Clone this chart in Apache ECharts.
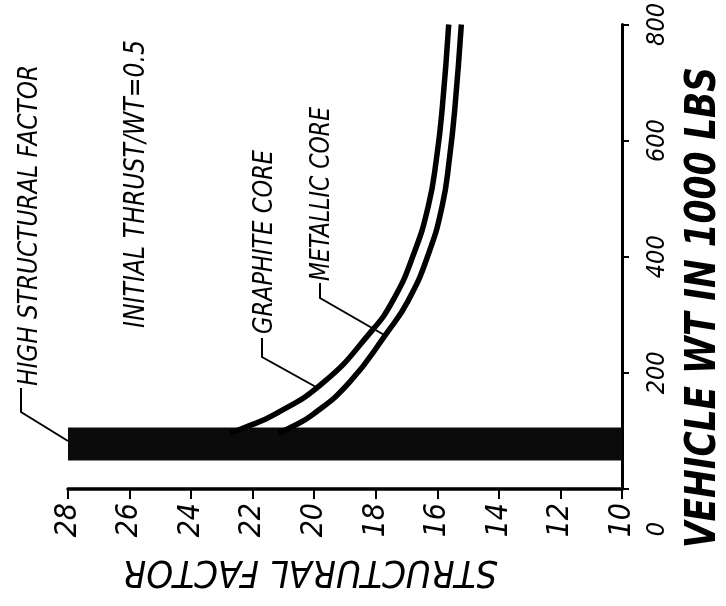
<!DOCTYPE html>
<html>
<head>
<meta charset="utf-8">
<script src="https://cdn.jsdelivr.net/npm/echarts@6/dist/echarts.min.js"></script>
<style>
html,body{margin:0;padding:0;background:#fff;}
#chart{width:726px;height:606px;}
</style>
</head>
<body>
<div id="chart"></div>
<script>
// ---- data ----
const sfMin = 10, sfMax = 28, sfStep = 2;      // structural factor axis (bottom, reversed)
const wtMin = 0, wtMax = 800, wtStep = 200;     // vehicle weight axis (right)

const graphiteWt = [96, 105, 128, 184, 268, 324, 403, 488, 572, 656, 800];
const graphiteSf = [22.75, 22.3, 21.3, 19.69, 18.2, 17.45, 16.78, 16.29, 16.02, 15.84, 15.63];
const metallicWt = [96, 105, 128, 184, 268, 324, 403, 488, 572, 656, 800];
const metallicSf = [21.15, 20.8, 20.05, 18.85, 17.65, 16.95, 16.3, 15.84, 15.6, 15.43, 15.22];

const bandSf = [28, 10];    // high structural factor band extent
const bandWt = [49, 106];

const xAxisName = 'STRUCTURAL FACTOR';
const yAxisName = 'VEHICLE WT IN 1000 LBS';
const noteHigh = 'HIGH STRUCTURAL FACTOR';
const noteThrust = 'INITIAL THRUST/WT=0.5';
const noteGraphite = 'GRAPHITE CORE';
const noteMetallic = 'METALLIC CORE';

// ---- chart ----
const FONT = "'Liberation Sans Narrow', 'DejaVu Sans Condensed', sans-serif";
const zip = (xs, ys) => xs.map((x, i) => [x, ys[i]]);
const mctx = document.createElement('canvas').getContext('2d');
function fitScale(text, font, len) {
  mctx.font = font;
  const w = mctx.measureText(text).width;
  return w > 0 ? len / w : 1;
}

const chart = echarts.init(document.getElementById('chart'), null, {renderer: 'canvas'});

function upText(x, y, text, size, len, weight) {
  const font = 'italic ' + (weight || 'normal') + ' ' + size + 'px ' + FONT;
  return {
    type: 'text', x: x, y: y, rotation: Math.PI / 2, z: 100,
    scaleX: fitScale(text, font, len), scaleY: 1,
    style: {text: text, fill: '#000', align: 'left', verticalAlign: 'middle', font: font}
  };
}
function leader(points) {
  return {
    type: 'polyline', z: 100,
    shape: {points: points},
    style: {stroke: '#000', lineWidth: 2, fill: null}
  };
}

const bottomFont = 'italic normal 38px ' + FONT;

const option = {
  backgroundColor: '#fff',
  animation: false,
  grid: {left: 68, right: 104, top: 15, bottom: 117, containLabel: false},
  xAxis: {
    type: 'value', min: sfMin, max: sfMax, interval: sfStep, inverse: true,
    position: 'bottom',
    axisLine: {show: true, lineStyle: {color: '#000', width: 3.5}},
    axisTick: {show: true, inside: false, length: 10, lineStyle: {color: '#000', width: 2}},
    axisLabel: {
      rotate: 90, margin: 14, color: '#000', fontSize: 30, fontStyle: 'italic',
      fontFamily: FONT
    },
    splitLine: {show: false}
  },
  yAxis: {
    type: 'value', min: wtMin, max: wtMax, interval: wtStep,
    position: 'right',
    axisLine: {show: true, lineStyle: {color: '#000', width: 3}},
    axisTick: {show: true, inside: false, length: 7, lineStyle: {color: '#000', width: 2}},
    axisLabel: {
      rotate: 90, margin: 23, color: '#000', fontSize: 25, fontStyle: 'italic',
      fontFamily: FONT,
      formatter: function (v) { return v === 0 ? '{z|0}' : String(v); },
      rich: {z: {fontSize: 25, fontStyle: 'italic', fontFamily: FONT, color: '#000', padding: [0, 80, 0, 0]}}
    },
    splitLine: {show: false}
  },
  series: [
    {
      name: 'GRAPHITE CORE', type: 'line', smooth: 0.5, symbol: 'none',
      data: zip(graphiteSf, graphiteWt),
      lineStyle: {color: '#000', width: 5.5},
      z: 5,
      markArea: {
        silent: true,
        itemStyle: {color: '#0b0b0b', opacity: 1},
        data: [[{xAxis: bandSf[0], yAxis: bandWt[0]}, {xAxis: bandSf[1], yAxis: bandWt[1]}]]
      }
    },
    {
      name: 'METALLIC CORE', type: 'line', smooth: 0.5, symbol: 'none',
      data: zip(metallicSf, metallicWt),
      lineStyle: {color: '#000', width: 5.5},
      z: 5
    }
  ],
  graphic: [
    upText(704, 548, yAxisName, 42, 481, 'bold'),
    {
      type: 'text', x: 310, y: 571, rotation: Math.PI, z: 100,
      scaleX: fitScale(xAxisName, bottomFont, 375), scaleY: 1,
      style: {text: xAxisName, fill: '#000', align: 'center', verticalAlign: 'middle', font: bottomFont}
    },
    upText(30, 386, noteHigh, 27, 321),
    upText(137, 328, noteThrust, 28, 288),
    upText(265, 334, noteGraphite, 27, 184),
    upText(322, 281, noteMetallic, 27, 174),
    leader([[21, 388], [21, 412], [68, 441]]),
    leader([[262, 338], [262, 357], [316, 387]]),
    leader([[320, 283], [320, 298], [386, 336]])
  ]
};
chart.setOption(option);
</script>
</body>
</html>
